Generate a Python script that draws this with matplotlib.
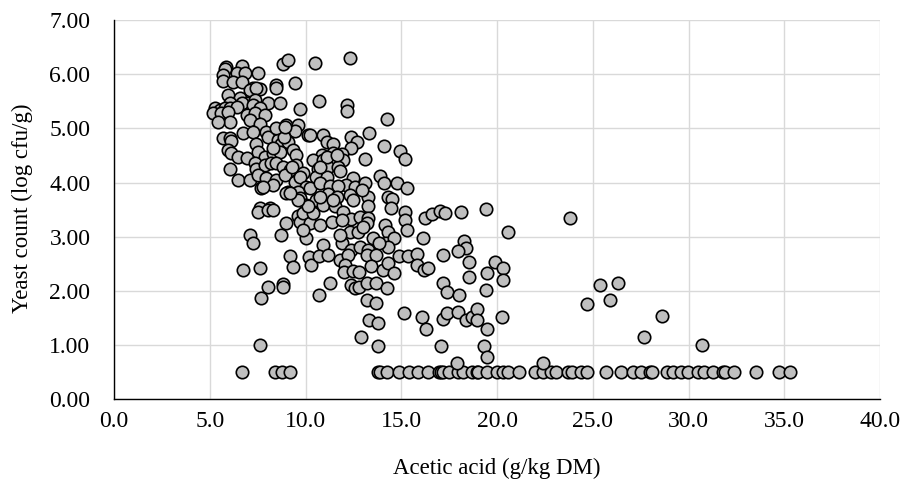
import matplotlib
matplotlib.use("Agg")
import matplotlib.pyplot as plt

plt.rcParams["font.family"] = ["Liberation Serif", "DejaVu Serif"]

# samples at the detection limit, plotted at 0.50 log cfu/g
limit_acetic = [6.68, 8.4, 8.76, 9.18, 13.8, 13.9, 14.25, 14.9, 15.4, 15.9, 16.4,
                16.96, 17.1, 17.2, 17.5, 17.95, 18.2, 18.7, 18.95, 19.0, 19.5, 20.0,
                20.3, 20.6, 21.15, 22.0, 22.4, 22.8, 23.1, 23.7, 23.9, 24.4, 24.7,
                25.7, 26.5, 27.1, 27.5, 28.0, 28.1, 28.9, 29.2, 29.6, 29.97, 30.5,
                30.8, 31.3, 31.8, 31.9, 32.4, 33.5, 34.7, 35.3]
limit_yeast = [0.5] * len(limit_acetic)

# upper-left part of the cloud (x < 10, yeast > 5.3)
top_pts = [(5.84, 6.14), (5.78, 6.10), (6.66, 6.16), (8.83, 6.19), (9.1, 6.27),
           (10.49, 6.21), (12.3, 6.29), (6.4, 6.03), (6.83, 6.03), (7.52, 6.03),
           (5.7, 5.99), (5.7, 5.88), (6.22, 5.86), (6.66, 5.86), (7.26, 5.74),
           (7.6, 5.72), (7.1, 5.70), (7.44, 5.74), (8.48, 5.80), (8.48, 5.74),
           (9.44, 5.84), (5.96, 5.61), (6.57, 5.56), (6.92, 5.46), (7.35, 5.52),
           (8.05, 5.47), (8.66, 5.46), (6.04, 5.46), (6.66, 5.46), (5.26, 5.37),
           (5.52, 5.34), (5.78, 5.37), (6.05, 5.38), (6.4, 5.40), (7.26, 5.43),
           (7.6, 5.37), (9.7, 5.35)]

# x < 10, yeast 3.5 - 5.3
left_pts = [(5.17, 5.28), (5.6, 5.28), (5.95, 5.30), (6.04, 5.12), (5.43, 5.12),
            (6.92, 5.25), (7.35, 5.28), (7.87, 5.25), (7.1, 5.16), (7.6, 5.09),
            (9.0, 5.06), (9.61, 5.06), (9.1, 4.94), (9.45, 4.96), (10.13, 4.88),
            (5.7, 4.82), (6.04, 4.82), (6.13, 4.76), (6.74, 4.91), (7.26, 4.94),
            (7.96, 4.94), (8.05, 4.85), (8.57, 4.79), (8.74, 4.72), (9.1, 4.75),
            (8.9, 4.85), (5.96, 4.60), (6.13, 4.54), (6.48, 4.48), (6.92, 4.45),
            (7.44, 4.72), (7.52, 4.57), (7.87, 4.48), (8.3, 4.54), (8.66, 4.57),
            (9.36, 4.60), (9.53, 4.51), (6.04, 4.26), (7.35, 4.36), (7.44, 4.26),
            (7.87, 4.32), (8.22, 4.36), (8.48, 4.36), (8.83, 4.29), (9.18, 4.23),
            (9.53, 4.32), (9.87, 4.17), (6.48, 4.04), (7.1, 4.04), (7.7, 3.90),
            (7.52, 4.14), (7.96, 4.08), (8.48, 4.05), (8.92, 4.14), (9.44, 4.02),
            (9.7, 4.11), (10.05, 3.92), (9.1, 3.83), (9.61, 3.83), (9.7, 3.71),
            (10.05, 3.59), (7.6, 3.53), (8.13, 3.53), (8.45, 5.00), (8.92, 5.03),
            (9.0, 3.80), (8.3, 3.96), (7.8, 3.92), (8.3, 4.63), (9.27, 4.29)]

# x < 10.3, yeast 2.7 - 3.5
lower_left_pts = [(7.52, 3.46), (8.05, 3.49), (8.3, 3.49), (9.0, 3.25), (8.74, 3.03),
                  (7.1, 3.03), (7.26, 2.88), (9.61, 3.39), (9.7, 3.28), (9.87, 3.43),
                  (10.22, 3.56), (10.22, 3.26), (10.05, 2.97), (9.87, 3.13)]

# x 10.2 - 15.5, yeast 3.9 - 5.5
mid_high_pts = [(10.7, 5.51), (12.19, 5.44), (12.19, 5.32), (14.27, 5.17),
                (10.22, 4.88), (10.92, 4.88), (11.13, 4.74), (11.41, 4.72),
                (12.4, 4.84), (12.7, 4.74), (12.4, 4.63), (13.3, 4.92), (14.09, 4.67),
                (14.96, 4.59), (15.22, 4.43), (10.84, 4.51), (11.44, 4.54),
                (11.91, 4.53), (11.96, 4.42), (10.4, 4.42), (10.92, 4.42),
                (13.13, 4.43), (10.66, 4.25), (11.18, 4.29), (11.7, 4.29),
                (11.79, 4.22), (10.57, 4.11), (11.1, 4.11), (12.49, 4.09),
                (13.88, 4.12), (11.1, 4.48), (11.62, 4.51), (10.75, 4.29)]

# x 10.2 - 16.5, yeast 2.7 - 4.0
mid_pts = [(10.22, 3.90), (10.75, 3.99), (11.27, 3.94), (12.14, 3.96), (12.58, 3.92),
           (13.1, 3.99), (14.09, 4.00), (14.8, 3.99), (15.31, 3.90), (11.7, 3.94),
           (11.18, 3.79), (10.57, 3.68), (11.62, 3.74), (12.31, 3.77), (13.27, 3.74),
           (14.32, 3.74), (14.5, 3.70), (10.4, 3.43), (10.92, 3.59), (11.53, 3.56),
           (11.96, 3.46), (12.4, 3.32), (12.84, 3.37), (13.27, 3.56), (13.27, 3.34),
           (13.2, 3.25), (14.49, 3.53), (10.75, 3.22), (11.36, 3.28), (11.88, 3.31),
           (12.31, 3.09), (12.75, 3.09), (13.0, 3.18), (15.19, 3.46), (15.19, 3.31),
           (15.31, 3.13), (16.23, 3.34), (16.11, 2.97), (14.14, 3.22), (14.32, 3.09),
           (14.19, 2.88), (14.6, 2.97), (14.32, 2.82), (13.53, 2.97), (10.92, 2.85),
           (11.88, 2.88), (12.4, 2.76), (12.84, 2.82), (11.79, 3.03), (13.86, 2.88),
           (13.27, 2.76), (12.93, 3.86), (12.49, 3.68), (11.44, 3.68), (10.75, 3.74),
           (10.13, 3.56), (9.62, 3.68), (9.18, 3.80)]

# x > 16.5, yeast 2.7 - 3.6
right_pts = [(16.6, 3.42), (17.0, 3.47), (17.3, 3.43), (18.1, 3.45), (19.4, 3.52),
             (18.3, 2.93), (18.4, 2.80), (20.6, 3.09), (23.8, 3.35)]

# everything below 2.74 that is not at the detection limit
low_pts = [(9.18, 2.65), (9.34, 2.44), (8.8, 2.13), (8.8, 2.08), (10.2, 2.62),
           (10.3, 2.48), (10.7, 2.65), (11.2, 2.67), (11.3, 2.14), (10.7, 1.93),
           (11.8, 2.57), (12.2, 2.67), (12.05, 2.48), (12.0, 2.35), (12.5, 2.37),
           (12.8, 2.35), (12.4, 2.11), (12.6, 2.05), (12.8, 2.07), (13.2, 2.14),
           (13.7, 2.14), (14.25, 2.05), (13.2, 1.83), (13.7, 1.77), (13.3, 1.46),
           (13.8, 1.41), (12.9, 1.15), (13.8, 0.99), (13.2, 2.66), (13.7, 2.66),
           (13.4, 2.46), (14.05, 2.39), (14.3, 2.51), (14.6, 2.33), (14.9, 2.65),
           (15.35, 2.65), (15.8, 2.68), (15.8, 2.48), (16.2, 2.39), (16.4, 2.42),
           (15.15, 1.59), (16.1, 1.52), (16.3, 1.30), (17.2, 2.66), (17.95, 2.74),
           (17.2, 2.14), (17.4, 1.98), (18.0, 1.93), (18.55, 2.54), (18.55, 2.26),
           (19.9, 2.54), (20.3, 2.42), (20.3, 2.20), (19.5, 2.33), (19.45, 2.02),
           (17.2, 1.48), (17.4, 1.59), (17.95, 1.61), (18.4, 1.46), (18.7, 1.52),
           (18.95, 1.66), (18.95, 1.46), (19.5, 1.30), (20.25, 1.52), (17.1, 0.99),
           (19.3, 0.99), (19.5, 0.78), (17.9, 0.67), (22.4, 0.67), (24.7, 1.76),
           (25.4, 2.11), (25.9, 1.84), (26.3, 2.15), (27.7, 1.15), (28.6, 1.53),
           (30.7, 1.00), (7.62, 1.00), (6.74, 2.39), (7.6, 2.42), (8.05, 2.08),
           (7.7, 1.88)]

x_ticks = [0, 5, 10, 15, 20, 25, 30, 35, 40]
y_ticks = [0, 1, 2, 3, 4, 5, 6, 7]

acetic = list(limit_acetic)
yeast = list(limit_yeast)
for group in (top_pts, left_pts, lower_left_pts, mid_high_pts, mid_pts, right_pts, low_pts):
    acetic += [p[0] for p in group]
    yeast += [p[1] for p in group]

fig = plt.figure(figsize=(9.18, 4.93), dpi=100)
ax = fig.add_axes([114 / 918, 1 - 399.4 / 493, (880 - 114) / 918, (399.4 - 20) / 493])

ax.scatter(acetic, yeast, s=80, c="#BFBFBF", edgecolors="black", linewidths=1.2,
           zorder=3, clip_on=False)

ax.set_xlim(0, 40)
ax.set_ylim(0, 7)
ax.set_xticks(x_ticks)
ax.set_xticklabels([f"{v:.1f}" for v in x_ticks])
ax.set_yticks(y_ticks)
ax.set_yticklabels([f"{v:.2f}" for v in y_ticks])
ax.grid(True, color="#D9D9D9", linewidth=1.0)
ax.set_axisbelow(True)
for side in ("top", "right"):
    ax.spines[side].set_visible(False)
for side in ("left", "bottom"):
    ax.spines[side].set_color("black")
    ax.spines[side].set_linewidth(1.0)
ax.tick_params(axis="both", length=0, labelsize=17)
ax.tick_params(axis="y", pad=17)
ax.tick_params(axis="x", pad=8)

fig.text(497 / 918, 1 - 468 / 493, "Acetic acid (g/kg DM)", fontsize=16.5,
         ha="center", va="center")
fig.text(22 / 918, 1 - 208 / 493, "Yeast count (log cfu/g)", fontsize=16.5,
         ha="center", va="center", rotation=90)

fig.savefig("out.png", dpi=100)
